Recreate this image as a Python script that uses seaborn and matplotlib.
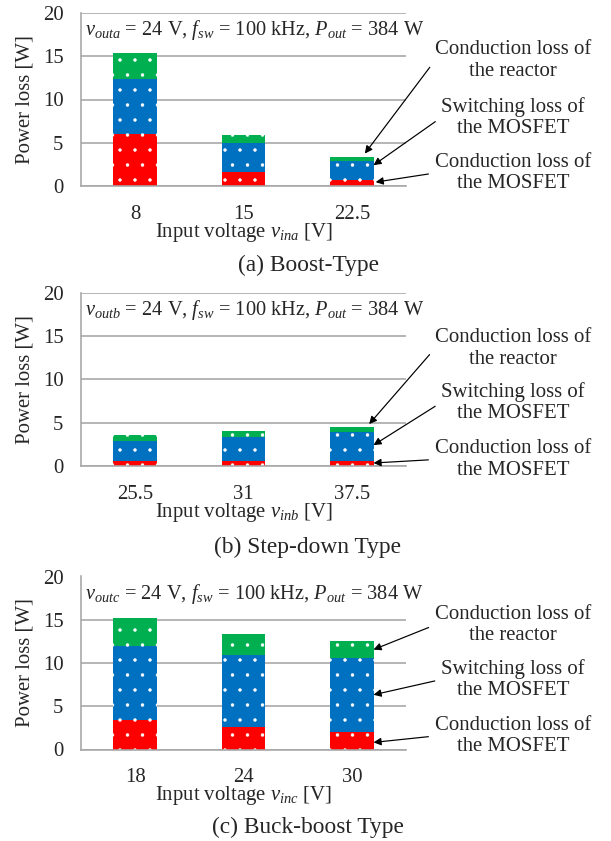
import matplotlib
matplotlib.use('Agg')
import matplotlib.pyplot as plt
import seaborn as sns

# Loss breakdown [W]
a_vin = ['8', '15', '22.5']
a_cond_mosfet = [6.0, 1.65, 0.75]
a_sw_mosfet = [6.4, 3.35, 2.15]
a_cond_reactor = [3.0, 0.9, 0.5]

b_vin = ['25.5', '31', '37.5']
b_cond_mosfet = [0.6, 0.6, 0.6]
b_sw_mosfet = [2.25, 2.8, 3.3]
b_cond_reactor = [0.7, 0.6, 0.65]

c_vin = ['18', '24', '30']
c_cond_mosfet = [3.4, 2.55, 2.05]
c_sw_mosfet = [8.6, 8.35, 8.55]
c_cond_reactor = [3.25, 2.45, 1.9]

y_ticks = [0, 5, 10, 15, 20]
loss_labels = ['Conduction loss of\nthe reactor',
               'Switching loss of\nthe MOSFET',
               'Conduction loss of\nthe MOSFET']

# dpi 90 makes the '.' hatch spacing close to the original dot grid
W, H, DPI = 611, 841, 90


def pt(pixels):
    # size given in pixels -> points at this dpi
    return pixels * 72 / DPI


def px(x, y):
    # pixel position (from top-left) -> figure fraction
    return x / W, 1 - y / H


sns.set_style('white')
plt.rcParams['font.family'] = ['Liberation Serif', 'DejaVu Serif']
plt.rcParams['mathtext.fontset'] = 'custom'
plt.rcParams['mathtext.rm'] = 'Liberation Serif'
plt.rcParams['mathtext.it'] = 'Liberation Serif:italic'
plt.rcParams['hatch.color'] = 'white'
plt.rcParams['hatch.linewidth'] = pt(0.4)

red, blue, green = '#FF0000', '#0070C0', '#00B050'
grey = '#A6A6A6'
fs = pt(20.8)

fig = plt.figure(figsize=(W / DPI, H / DPI), dpi=DPI)

panels = [
    dict(vin=a_vin, cond=a_cond_mosfet, sw=a_sw_mosfet, reac=a_cond_reactor,
         top=13, sub_out='outa', sub_in='ina', caption='(a) Boost-Type', cap_y=265,
         text_y=[60.5, 117.5, 173], tips=[(2.12, 1.7), (2.2, 0.77), (2.22, 0.6)]),
    dict(vin=b_vin, cond=b_cond_mosfet, sw=b_sw_mosfet, reac=b_cond_reactor,
         top=293, sub_out='outb', sub_in='inb', caption='(b) Step-down Type', cap_y=547,
         text_y=[348.5, 402.5, 459.5], tips=[(2.16, 1.46), (2.2, 0.55), (2.2, 0.58)]),
    dict(vin=c_vin, cond=c_cond_mosfet, sw=c_sw_mosfet, reac=c_cond_reactor,
         top=576.5, sub_out='outc', sub_in='inc', caption='(c) Buck-boost Type', cap_y=827,
         text_y=[625, 679.5, 736], tips=[(2.2, 0.5), (2.2, 0.5), (2.2, 0.4)]),
]

ax_left, ax_w, ax_h = 81, 325, 173

for p in panels:
    x0, y0 = px(ax_left, p['top'] + ax_h)
    ax = fig.add_axes([x0, y0, ax_w / W, ax_h / H])

    lower = p['cond']
    middle = [c + s for c, s in zip(p['cond'], p['sw'])]
    total = [m + r for m, r in zip(middle, p['reac'])]

    # stacked bars: draw the totals first and cover them from the bottom up
    sns.barplot(x=p['vin'], y=total, color=green, width=0.4, saturation=1,
                errorbar=None, ax=ax)
    sns.barplot(x=p['vin'], y=middle, color=blue, width=0.4, saturation=1,
                errorbar=None, ax=ax)
    sns.barplot(x=p['vin'], y=lower, color=red, width=0.4, saturation=1,
                errorbar=None, ax=ax)
    for bar in ax.patches:
        bar.set_hatch('.')
        bar.set_edgecolor('white')
        bar.set_linewidth(0)

    ax.set_xlim(-0.5, 2.5)
    ax.set_ylim(0, 20)
    ax.set_yticks(y_ticks)
    ax.set_axisbelow(True)
    ax.yaxis.grid(True, color=grey, linewidth=pt(1.6))
    ax.xaxis.grid(False)
    for side in ['top', 'right']:
        ax.spines[side].set_visible(False)
    for side in ['left', 'bottom']:
        ax.spines[side].set_color(grey)
        ax.spines[side].set_linewidth(pt(1.6))

    ax.set_xticks([-0.5, 0.5, 1.5, 2.5], minor=True)
    ax.tick_params(axis='x', which='minor', direction='inout', length=pt(12),
                   width=pt(1.6), color=grey)
    ax.tick_params(axis='x', which='major', length=0, pad=pt(19), labelsize=fs)
    ax.tick_params(axis='y', length=0, pad=pt(17.5), labelsize=fs)

    ax.set_xlabel('Input voltage $v_{%s}$ [V]' % p['sub_in'], fontsize=fs)
    ax.xaxis.label.set_va('center')
    ax.xaxis.set_label_coords(0.5, -46 / ax_h)
    ax.set_ylabel('Power loss [W]', fontsize=fs)
    ax.yaxis.label.set_va('center')
    ax.yaxis.set_label_coords((25 - ax_left) / ax_w, 0.5)

    ax.text(0.012, 0.9,
            '$v_{%s}$ = 24 V, $f_{sw}$ = 100 kHz, $P_{out}$ = 384 W' % p['sub_out'],
            transform=ax.transAxes, ha='left', va='center', fontsize=pt(20.4),
            zorder=5, bbox=dict(facecolor='white', edgecolor='none', pad=pt(2.5)))

    # arrows from the loss names to the segments of the last bar
    segments = [(middle, p['reac']), (lower, p['sw']), ([0, 0, 0], p['cond'])]
    for label, ty, (tx, frac), (base, height) in zip(loss_labels, p['text_y'],
                                                      p['tips'], segments):
        tip_y = base[2] + frac * height[2]
        ax.annotate(label, xy=(tx, tip_y), xycoords='data',
                    xytext=px(513, ty), textcoords='figure fraction',
                    ha='center', va='center', fontsize=fs, annotation_clip=False,
                    arrowprops=dict(arrowstyle='-|>', color='black', lw=pt(1.2),
                                    mutation_scale=pt(15.5), relpos=(0, 0.5),
                                    shrinkA=pt(3.5), shrinkB=0))

    fig.text(*px(308, p['cap_y']), p['caption'], ha='center', va='center',
             fontsize=pt(23.4))

fig.savefig('out.png', dpi=DPI)
